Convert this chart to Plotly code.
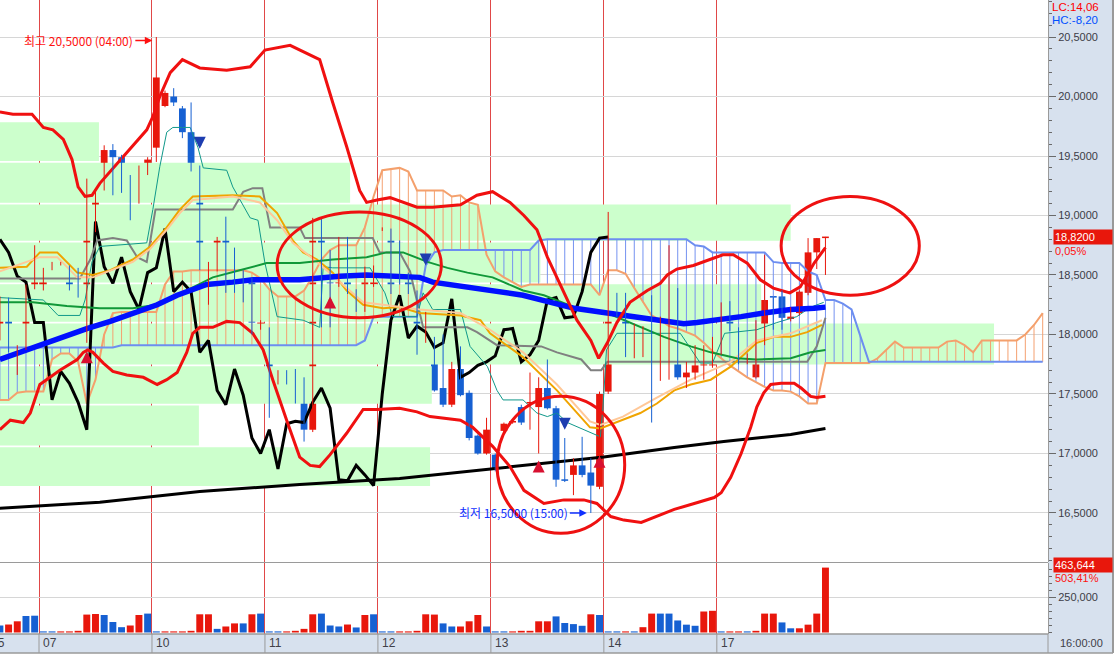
import plotly.graph_objects as go

# ---------------- candles: bar index (13 hourly bars a day, 0 = first bar of the 07th) ----------------
idx = list(range(-5, 91))
open_ = [17.98, 18.29, 17.86, 17.89, 18.40,
         18.40, 18.56, 18.59, 18.56, 18.38, 18.33, 18.88, 19.23, 19.55, 19.49, 19.32, 19.17, 19.36,
         19.57, 19.92, 20.00, 19.90, 19.70, 19.39, 18.47, 18.55, 18.80, 18.71, 18.50, 18.44, 18.06,
         18.05, 17.59, 17.69, 17.69, 17.55, 17.20, 18.95, 18.57, 18.43, 18.65, 18.37, 18.21, 18.42,
         18.88, 18.88, 18.77, 18.50, 18.35, 17.94, 17.96, 17.55, 17.41, 17.71, 17.51, 17.15, 17.00,
         16.99, 17.19, 17.26, 17.39, 17.42, 17.39, 17.55, 17.38, 16.78, 16.82, 16.90, 16.84, 16.72,
         17.52, 18.34, 18.33, 17.93, 18.01, 17.98, 17.92, 17.93, 18.34, 17.64, 17.68, 17.74, 17.74,
         17.85, 18.27, 18.04, 17.77, 17.64, 17.93, 18.32, 18.32, 18.13, 18.18, 18.35, 18.69, 18.81]
high_ = [18.32, 18.31, 17.91, 18.42, 18.75,
         18.56, 18.61, 18.61, 18.58, 18.56, 19.31, 19.23, 19.59, 19.60, 19.51, 19.34, 19.42, 19.49,
         20.50, 20.05, 20.07, 19.92, 19.95, 19.42, 18.61, 18.82, 18.99, 18.73, 18.54, 18.48, 18.12,
         18.06, 17.70, 17.70, 17.71, 17.64, 18.98, 18.98, 18.71, 18.82, 18.82, 18.38, 18.57, 18.58,
         18.90, 18.89, 18.79, 18.52, 18.37, 18.19, 17.98, 18.00, 17.77, 17.90, 17.53, 17.16, 17.30,
         17.00, 17.26, 17.28, 17.41, 17.68, 17.64, 17.79, 17.40, 17.13, 16.96, 17.14, 16.96, 17.52,
         19.03, 18.35, 18.35, 18.09, 18.07, 18.33, 18.15, 18.75, 18.39, 17.77, 17.91, 17.91, 17.98,
         18.27, 18.28, 18.06, 17.84, 18.12, 18.67, 18.32, 18.37, 18.23, 18.37, 18.81, 18.81, 18.82]
low_ = [17.95, 17.85, 17.66, 17.87, 18.38,
        18.37, 18.54, 18.58, 18.37, 18.31, 17.93, 18.86, 19.21, 19.17, 19.19, 18.96, 19.10, 19.34,
        19.45, 19.91, 19.92, 19.65, 19.37, 18.54, 18.25, 18.53, 18.35, 18.35, 18.27, 18.00, 18.04,
        17.30, 17.58, 17.58, 17.42, 17.10, 17.18, 18.06, 18.06, 18.40, 18.34, 18.19, 18.19, 18.40,
        18.87, 18.34, 18.42, 18.34, 17.83, 17.93, 17.52, 17.39, 17.39, 17.48, 17.11, 16.99, 16.99,
        16.85, 17.17, 17.25, 17.24, 17.20, 17.00, 17.37, 16.72, 16.76, 16.65, 16.80, 16.50, 16.70,
        17.50, 18.14, 17.81, 17.80, 17.81, 17.26, 17.61, 17.62, 17.62, 17.55, 17.62, 17.62, 17.72,
        17.83, 18.03, 17.75, 17.75, 17.63, 17.91, 18.04, 18.04, 18.11, 18.16, 18.33, 18.55, 18.50]
close_ = [18.29, 17.87, 17.90, 18.40, 18.74,
          18.53, 18.60, 18.60, 18.39, 18.32, 18.89, 19.19, 19.55, 19.49, 19.32, 19.19, 19.36, 19.47,
          20.16, 20.03, 19.95, 19.70, 19.38, 18.56, 18.55, 18.80, 18.69, 18.49, 18.44, 18.10, 18.10,
          17.45, 17.69, 17.59, 17.43, 17.20, 18.95, 18.57, 18.43, 18.65, 18.36, 18.21, 18.52, 18.56,
          18.89, 18.36, 18.44, 18.36, 17.85, 17.95, 17.53, 17.41, 17.71, 17.49, 17.13, 17.00, 17.20,
          16.87, 17.25, 17.27, 17.26, 17.43, 17.55, 17.38, 16.78, 16.77, 16.90, 16.82, 16.73, 17.50,
          18.12, 18.33, 17.97, 18.07, 18.02, 17.89, 17.93, 18.30, 17.64, 17.68, 17.74, 17.77, 17.82,
          18.04, 18.05, 17.77, 17.83, 17.95, 18.29, 18.31, 18.14, 18.15, 18.36, 18.69, 18.81, 18.82]
volume = [50000, 57000, 80000, 118000, 120000,
          8000, 8000, 8000, 8000, 12000, 128000, 132000, 125000, 75000, 38000, 50000, 125000, 135000,
          8000, 8000, 8000, 8000, 12000, 130000, 130000, 26000, 43000, 65000, 65000, 130000, 135000,
          8000, 8000, 8000, 12000, 26000, 130000, 135000, 50000, 43000, 57000, 36000, 125000, 130000,
          8000, 8000, 8000, 8000, 12000, 130000, 128000, 65000, 43000, 43000, 80000, 125000, 43000,
          8000, 8000, 8000, 12000, 12000, 80000, 80000, 115000, 68000, 60000, 48000, 130000, 125000,
          8000, 8000, 8000, 8000, 38000, 135000, 135000, 135000, 86000, 56000, 48000, 150000, 155000,
          8000, 8000, 8000, 8000, 12000, 135000, 135000, 72000, 30000, 30000, 56000, 135000, 463644]
vol_up = [0, 1, 1, 0, 0,
          0, 0, 1, 1, 1, 1, 1, 0, 0, 0, 1, 1, 0,
          0, 1, 1, 1, 1, 1, 1, 0, 1, 1, 0, 1, 0,
          0, 0, 1, 1, 1, 1, 0, 0, 0, 1, 0, 1, 0,
          0, 0, 1, 1, 1, 1, 1, 0, 0, 1, 1, 1, 0,
          0, 0, 1, 1, 1, 1, 1, 0, 0, 0, 0, 1, 0,
          0, 0, 1, 0, 1, 1, 0, 0, 0, 0, 0, 1, 1,
          0, 1, 1, 0, 1, 1, 1, 0, 0, 1, 1, 1, 1]

day_labels = ["07", "10", "11", "12", "13", "14", "17"]
day_starts = [-0.5, 12.5, 25.5, 38.5, 51.5, 64.5, 77.5]
price_ticks = [16.5, 17.0, 17.5, 18.0, 18.5, 19.0, 19.5, 20.0, 20.5]
price_tick_text = ["16,5000", "17,0000", "17,5000", "18,0000", "18,5000",
                   "19,0000", "19,5000", "20,0000", "20,5000"]

# ---------------- indicator lines (vertex index, price) ----------------
bb_up_x = [-5.0, -3.5, -1.3, 0.0, 1.1, 2.3, 3.3, 4.0, 4.8, 5.6, 6.5, 11.9, 12.6, 13.4, 14.6, 16.0, 18.0,
           21.1, 23.8, 25.5, 28.4, 31.8, 33.3, 34.9, 36.4, 37.2, 38.4, 39.9, 43.0, 44.8, 48.0, 49.9, 51.7,
           53.7, 55.3, 56.8, 58.0, 59.6, 61.4, 63.0, 63.9, 64.9, 66.0, 67.5, 69.5, 71.0, 71.8, 72.9, 74.8,
           76.7, 78.2, 79.4, 81.0, 82.5, 84.0, 85.9, 87.1, 88.7, 90.0]
bb_up = [19.87, 19.85, 19.85, 19.74, 19.72, 19.64, 19.47, 19.24, 19.16, 19.17, 19.27, 19.72, 19.83, 20.00,
         20.20, 20.31, 20.24, 20.22, 20.25, 20.39, 20.43, 20.31, 19.95, 19.58, 19.21, 19.11, 19.13, 19.15,
         19.07, 19.07, 19.09, 19.17, 19.20, 19.11, 19.00, 18.88, 18.65, 18.40, 18.12, 17.95, 17.80, 17.93,
         18.10, 18.27, 18.37, 18.43, 18.50, 18.55, 18.58, 18.63, 18.67, 18.67, 18.60, 18.46, 18.39, 18.35,
         18.40, 18.60, 18.73]
bb_lo_x = [-5.0, -3.8, -2.3, -1.5, -0.4, 0.4, 1.9, 3.9, 4.6, 5.1, 5.7, 6.9, 8.0, 9.6, 11.5, 13.1, 14.2,
           15.4, 16.5, 17.2, 18.0, 19.5, 21.1, 22.6, 24.1, 25.3, 26.4, 28.0, 29.5, 30.7, 31.8, 33.0, 34.9,
           36.8, 38.4, 41.0, 43.0, 44.5, 48.0, 49.4, 51.7, 53.7, 55.3, 57.6, 59.9, 62.2, 63.7, 65.3, 66.8,
           68.8, 70.6, 72.6, 74.9, 77.2, 78.0, 79.1, 80.3, 81.4, 82.1, 82.9, 83.7, 84.9, 86.4, 87.2, 88.3,
           89.0, 90.0]
bb_lo = [17.20, 17.28, 17.26, 17.34, 17.58, 17.62, 17.70, 17.79, 17.85, 17.87, 17.85, 17.76, 17.69, 17.66,
         17.64, 17.58, 17.62, 17.68, 17.85, 18.01, 18.06, 18.06, 18.11, 18.10, 18.01, 17.87, 17.62, 17.28,
         16.97, 16.90, 16.89, 16.99, 17.17, 17.37, 17.37, 17.38, 17.35, 17.31, 17.28, 17.22, 17.06, 16.89,
         16.69, 16.58, 16.61, 16.61, 16.58, 16.47, 16.44, 16.42, 16.47, 16.53, 16.58, 16.63, 16.67, 16.80,
         17.00, 17.22, 17.39, 17.51, 17.58, 17.59, 17.59, 17.55, 17.48, 17.47, 17.48]
ma_blue_x = [-5.0, -2.7, 0.0, 2.7, 5.0, 7.7, 10.3, 13.1, 15.4, 17.1, 18.8, 21.8, 24.1, 29.5, 31.8, 34.1, 37.2,
             41.0, 43.3, 44.8, 48.8, 52.6, 55.2, 58.4, 61.1, 64.9, 68.0, 70.6, 73.7, 75.2, 77.5, 80.3, 82.9,
             86.0, 88.7, 90.0]
ma_blue = [17.79, 17.85, 17.93, 18.00, 18.05, 18.11, 18.18, 18.25, 18.33, 18.37, 18.42, 18.44, 18.46, 18.46,
           18.48, 18.49, 18.50, 18.49, 18.48, 18.44, 18.40, 18.36, 18.33, 18.27, 18.22, 18.18, 18.15, 18.12,
           18.09, 18.10, 18.12, 18.15, 18.18, 18.21, 18.22, 18.23]
ma_green_x = [-5.0, -1.2, 2.7, 6.5, 10.3, 13.1, 16.5, 19.5, 22.6, 25.7, 29.5, 33.3, 37.2, 39.5, 41.4, 44.2,
              46.5, 48.8, 51.7, 55.2, 57.6, 61.1, 64.9, 68.8, 71.4, 74.5, 76.8, 79.8, 82.1, 86.0, 88.3, 90.0]
ma_green = [18.27, 18.27, 18.24, 18.22, 18.22, 18.25, 18.37, 18.48, 18.54, 18.60, 18.60, 18.63, 18.65, 18.69,
            18.69, 18.61, 18.56, 18.52, 18.48, 18.37, 18.33, 18.23, 18.18, 18.06, 17.98, 17.90, 17.85, 17.80,
            17.79, 17.80, 17.85, 17.87]
ma_orange_x = [-5.0, -1.9, -0.4, 1.6, 3.9, 5.7, 7.7, 10.3, 12.3, 14.2, 15.7, 17.2, 21.8, 24.9, 26.9, 28.7,
               29.9, 31.5, 33.3, 34.9, 36.8, 39.1, 41.0, 43.3, 48.0, 50.3, 51.4, 55.2, 59.1, 62.9, 64.1, 66.7,
               68.7, 70.6, 72.6, 74.5, 76.8, 79.1, 82.1, 84.1, 86.0, 87.9, 89.6]
ma_orange = [18.56, 18.57, 18.69, 18.69, 18.52, 18.50, 18.54, 18.63, 18.74, 18.90, 19.05, 19.16, 19.17, 19.16,
             19.02, 18.79, 18.69, 18.63, 18.52, 18.37, 18.25, 18.22, 18.23, 18.18, 18.16, 18.12, 18.01, 17.81,
             17.53, 17.22, 17.21, 17.28, 17.34, 17.42, 17.53, 17.58, 17.62, 17.73, 17.93, 17.98, 17.98, 18.02,
             18.08]
ma_salmon_x = [-5.0, -0.4, 1.6, 3.9, 5.7, 10.3, 12.3, 14.2, 15.7, 17.2, 21.8, 24.9, 26.9, 28.7, 31.5, 34.9,
               36.8, 39.1, 43.3, 48.0, 51.4, 55.2, 59.1, 62.9, 64.1, 66.7, 70.6, 74.5, 79.1, 82.1, 86.0, 89.6]
ma_salmon = [18.53, 18.65, 18.65, 18.48, 18.48, 18.61, 18.72, 18.88, 19.02, 19.13, 19.16, 19.11, 18.96, 18.77,
             18.61, 18.39, 18.27, 18.25, 18.21, 18.18, 18.04, 17.85, 17.58, 17.27, 17.24, 17.31, 17.47, 17.62,
             17.77, 17.95, 18.01, 18.12]
kijun_x = [-5.0, 4.2, 5.4, 6.2, 8.0, 9.6, 10.8, 11.9, 12.9, 21.8, 23.0, 24.1, 25.2, 26.1, 29.5, 30.1, 37.9,
           38.7, 41.0, 42.2, 43.7, 48.8, 49.9, 52.2, 57.3, 59.1, 61.9, 63.0, 64.2, 64.9, 87.9, 89.0, 90.0]
kijun = [18.47, 18.47, 18.63, 18.79, 18.81, 18.79, 18.65, 18.61, 19.05, 19.05, 19.20, 19.23, 19.23, 18.90,
         18.90, 18.81, 18.81, 18.69, 18.69, 18.53, 18.06, 18.06, 18.02, 17.91, 17.90, 17.85, 17.79, 17.70,
         17.70, 17.77, 17.77, 17.90, 18.14]
tenkan_x = [-5.0, 0.0, 1.7, 4.2, 4.8, 5.6, 6.5, 11.9, 12.6, 13.4, 14.2, 14.9, 16.9, 17.8, 18.4, 21.1, 21.8,
            23.8, 24.7, 25.5, 26.9, 29.9, 31.8, 32.2, 33.3, 37.6, 39.3, 40.2, 43.0, 43.7, 44.8, 48.0, 49.1,
            51.1, 52.2, 52.9, 55.2, 56.8, 58.0, 59.1, 60.3, 63.3, 64.1, 64.4, 64.8, 66.0, 73.3, 75.6, 77.0,
            78.4, 82.1, 84.4, 86.7, 88.3, 89.8]
tenkan = [18.31, 18.29, 18.16, 18.16, 18.29, 18.61, 18.74, 18.77, 19.05, 19.41, 19.70, 19.74, 19.74, 19.57,
          19.40, 19.38, 19.24, 18.98, 18.96, 18.60, 18.15, 18.12, 18.06, 18.57, 18.56, 18.56, 18.35, 18.15,
          18.15, 18.35, 18.21, 18.21, 17.90, 17.73, 17.53, 17.45, 17.45, 17.34, 17.31, 17.34, 17.26, 17.17,
          17.14, 17.39, 17.87, 18.01, 18.01, 17.76, 17.76, 18.01, 18.04, 18.10, 18.15, 18.23, 18.27]
ma_long_x = [-5.0, 6.5, 18.0, 29.5, 41.0, 55.2, 64.5, 72.6, 78.3, 86.0, 90.0]
ma_long = [16.54, 16.59, 16.68, 16.74, 16.79, 16.90, 16.97, 17.05, 17.10, 17.16, 17.21]
chikou_shift = 25

# ---------------- ichimoku cloud (per bar, shifted forward) ----------------
cloud_x = list(range(-5, 116))
span_a = [17.45, 17.45, 17.51, 17.52, 17.52,
          17.52, 17.79, 17.84, 17.84, 17.77, 17.42, 17.62, 18.00, 18.18, 18.19, 18.19, 18.19, 18.19,
          18.19, 18.42, 18.53, 18.53, 18.54, 18.54, 18.54, 18.54, 18.54, 18.54, 18.54, 18.52, 18.47,
          18.38, 18.32, 18.32, 18.32, 18.37, 18.49, 18.63, 18.71, 18.75, 18.75, 18.75, 18.90, 19.16,
          19.38, 19.39, 19.40, 19.37, 19.21, 19.21, 19.21, 19.21, 19.16, 19.17, 19.11, 19.09, 18.67,
          18.53, 18.48, 18.44, 18.40, 18.42, 18.42, 18.42, 18.42, 18.42, 18.42, 18.42, 18.42, 18.33,
          18.54, 18.54, 18.51, 18.39, 18.27, 18.16, 18.12, 18.07, 18.05, 18.02, 17.99, 17.93, 17.86,
          17.80, 17.74, 17.69, 17.64, 17.60, 17.56, 17.53, 17.53, 17.52, 17.48, 17.42, 17.42, 17.76,
          17.76, 17.76, 17.76, 17.76, 17.76, 17.80, 17.87, 17.94, 17.89, 17.89, 17.89, 17.89, 17.89,
          17.94, 17.95, 17.91, 17.85, 17.95, 17.95, 17.95, 17.95, 17.95, 18.00, 18.08, 18.18]
span_b = [17.89, 17.89, 17.89, 17.89, 17.89,
          17.89, 17.89, 17.89, 17.89, 17.89, 17.89, 17.89, 17.89, 17.89, 17.91, 17.91, 17.91, 17.91,
          17.91, 17.91, 17.91, 17.91, 17.91, 17.91, 17.91, 17.91, 17.91, 17.91, 17.91, 17.91, 17.91,
          17.91, 17.91, 17.91, 17.91, 17.91, 17.91, 17.91, 17.91, 17.91, 17.91, 17.91, 17.95, 18.15,
          18.15, 18.15, 18.15, 18.15, 18.15, 18.58, 18.69, 18.71, 18.71, 18.71, 18.71, 18.71, 18.71,
          18.71, 18.71, 18.71, 18.71, 18.71, 18.79, 18.80, 18.80, 18.80, 18.80, 18.80, 18.80, 18.80,
          18.80, 18.80, 18.80, 18.80, 18.80, 18.80, 18.80, 18.80, 18.80, 18.80, 18.75, 18.74, 18.69,
          18.69, 18.69, 18.69, 18.69, 18.69, 18.69, 18.61, 18.60, 18.60, 18.60, 18.53, 18.50, 18.29,
          18.29, 18.26, 18.21, 17.99, 17.77, 17.77, 17.77, 17.77, 17.77, 17.77, 17.77, 17.77, 17.77,
          17.77, 17.77, 17.77, 17.77, 17.77, 17.77, 17.77, 17.77, 17.77, 17.77, 17.77, 17.77]

# ---------------- price-by-volume boxes ----------------
vp_low = [19.45, 19.10, 18.78, 18.43, 18.10, 17.74, 17.41, 17.06, 16.72]
vp_high = [19.79, 19.45, 19.10, 18.78, 18.43, 18.10, 17.74, 17.41, 17.06]
vp_end = [6.4, 35.3, 86.0, 57.2, 82.6, 109.4, 44.7, 17.9, 44.5]

# ---------------- signal arrows ----------------
buy_x = [5, 33, 57, 64]
buy_y = [17.86, 18.32, 16.94, 16.98]
sell_x = [18, 44, 60]
sell_y = [19.56, 18.58, 17.20]

RED = "#e8170c"
BLUE = "#1660d2"
NUM_FONT = "Liberation Sans, Arial, sans-serif"
KR_FONT = "Noto Sans CJK KR, sans-serif"
W_PLOT, H_PLOT = 1048.0, 634.0


def px(xp):
    return xp / W_PLOT


def py(yp):
    return (H_PLOT - yp) / H_PLOT


fig = go.Figure()

# price-by-volume boxes
bx, by = [], []
for lo, hi, end in zip(vp_low, vp_high, vp_end):
    bx += [-6, end, end, -6, -6, None]
    by += [lo + 0.007, lo + 0.007, hi - 0.007, hi - 0.007, lo + 0.007, None]
fig.add_trace(go.Scatter(x=bx, y=by, fill="toself", fillcolor="#ccffcc", mode="lines",
                         line=dict(width=0), hoverinfo="skip"))

# cloud hatching
ho_x, ho_y, hb_x, hb_y = [], [], [], []
for x, a, b in zip(cloud_x, span_a, span_b):
    if a >= b:
        ho_x += [x, x, None]
        ho_y += [b, a, None]
    else:
        hb_x += [x, x, None]
        hb_y += [a, b, None]
fig.add_trace(go.Scatter(x=ho_x, y=ho_y, mode="lines", line=dict(color="#f4a070", width=1), hoverinfo="skip"))
fig.add_trace(go.Scatter(x=hb_x, y=hb_y, mode="lines", line=dict(color="#7592f0", width=1), hoverinfo="skip"))
fig.add_trace(go.Scatter(x=cloud_x, y=span_a, mode="lines", line=dict(color="#f4a06c", width=2)))
fig.add_trace(go.Scatter(x=cloud_x, y=span_b, mode="lines", line=dict(color="#6d8ef0", width=2)))

# long moving average and lagging span
fig.add_trace(go.Scatter(x=ma_long_x, y=ma_long, mode="lines", line=dict(color="#000000", width=3)))
ch_x = [i - chikou_shift for i in idx if i >= chikou_shift - 5]
ch_y = [c for i, c in zip(idx, close_) if i >= chikou_shift - 5]
fig.add_trace(go.Scatter(x=ch_x, y=ch_y, mode="lines", line=dict(color="#000000", width=3)))

fig.add_trace(go.Scatter(x=kijun_x, y=kijun, mode="lines", line=dict(color="#808080", width=2)))
fig.add_trace(go.Scatter(x=tenkan_x, y=tenkan, mode="lines", line=dict(color="#10988a", width=1)))
fig.add_trace(go.Scatter(x=ma_orange_x, y=ma_orange, mode="lines", line=dict(color="#f0a400", width=2)))
fig.add_trace(go.Scatter(x=ma_salmon_x, y=ma_salmon, mode="lines", line=dict(color="#ffc898", width=2)))
fig.add_trace(go.Scatter(x=ma_green_x, y=ma_green, mode="lines", line=dict(color="#109838", width=2)))
fig.add_trace(go.Scatter(x=ma_blue_x, y=ma_blue, mode="lines", line=dict(color="#0010ff", width=5.5)))
fig.add_trace(go.Scatter(x=bb_up_x, y=bb_up, mode="lines", line=dict(color="#f01010", width=3)))
fig.add_trace(go.Scatter(x=bb_lo_x, y=bb_lo, mode="lines", line=dict(color="#f01010", width=3)))

# candles
cols, bases, heights = [], [], []
wr_x, wr_y, wb_x, wb_y = [], [], [], []
for i, o, h, l, c in zip(idx, open_, high_, low_, close_):
    up = c > o
    cols.append(RED if up else BLUE)
    bases.append(min(o, c))
    heights.append(max(abs(c - o), 0.013))
    if up:
        wr_x += [i, i, None]
        wr_y += [l, h, None]
    else:
        wb_x += [i, i, None]
        wb_y += [l, h, None]
fig.add_trace(go.Scatter(x=wr_x, y=wr_y, mode="lines", line=dict(color=RED, width=1)))
fig.add_trace(go.Scatter(x=wb_x, y=wb_y, mode="lines", line=dict(color=BLUE, width=1)))
fig.add_trace(go.Bar(x=idx, y=heights, base=bases, width=0.78, marker=dict(color=cols, line=dict(width=0))))

# volume
fig.add_trace(go.Bar(x=idx, y=volume, yaxis="y2", width=0.8,
                     marker=dict(color=[RED if u else BLUE for u in vol_up], line=dict(width=0))))

annotations = []
for x, y in zip(buy_x, buy_y):
    annotations.append(dict(x=x, y=y, xref="x", yref="y", text="", showarrow=True, ax=0, ay=12,
                            arrowhead=2, arrowsize=0.8, arrowwidth=3, arrowcolor="#d81030", standoff=0))
for x, y in zip(sell_x, sell_y):
    annotations.append(dict(x=x, y=y, xref="x", yref="y", text="", showarrow=True, ax=0, ay=-12,
                            arrowhead=2, arrowsize=0.8, arrowwidth=3, arrowcolor="#1d3db0", standoff=0))

annotations.append(dict(x=13, y=20.47, xref="x", yref="y", text="최고 20,5000 (04:00)", showarrow=True,
                        ax=-21, ay=0, xanchor="right", arrowhead=2, arrowsize=1, arrowwidth=1.5,
                        arrowcolor="#ff1010", standoff=4, font=dict(family=KR_FONT, size=12, color="#ff1010")))
annotations.append(dict(x=63, y=16.5, xref="x", yref="y", text="최저 16,5000 (15:00)", showarrow=True,
                        ax=-21, ay=0, xanchor="right", arrowhead=2, arrowsize=1, arrowwidth=1.5,
                        arrowcolor="#1030ff", standoff=4, font=dict(family=KR_FONT, size=12, color="#1030ff")))

# right-side labels
annotations.append(dict(x=px(1050), y=py(7), xref="paper", yref="paper", text="LC:14,06", showarrow=False,
                        xanchor="left", yanchor="middle", font=dict(family=NUM_FONT, size=11.5, color="#ff0000")))
annotations.append(dict(x=px(1050), y=py(20), xref="paper", yref="paper", text="HC:-8,20", showarrow=False,
                        xanchor="left", yanchor="middle", font=dict(family=NUM_FONT, size=11.5, color="#0050ff")))
annotations.append(dict(x=px(1053), y=close_[-1], xref="paper", yref="y", text="18,8200", showarrow=False,
                        xanchor="left", yanchor="middle", bgcolor="#e8170c", width=56, align="left", borderpad=1,
                        font=dict(family=NUM_FONT, size=11, color="#ffffff")))
annotations.append(dict(x=px(1053), y=close_[-1], yshift=-14, xref="paper", yref="y", text="0,05%",
                        showarrow=False, xanchor="left", yanchor="middle",
                        font=dict(family=NUM_FONT, size=11, color="#ff1010")))
annotations.append(dict(x=px(1053), y=volume[-1], yshift=3, xref="paper", yref="y2", text="463,644",
                        showarrow=False, xanchor="left", yanchor="middle", bgcolor="#e8170c", width=56,
                        align="left", borderpad=1, font=dict(family=NUM_FONT, size=11, color="#ffffff")))
annotations.append(dict(x=px(1053), y=volume[-1], yshift=-10, xref="paper", yref="y2", text="503,41%",
                        showarrow=False, xanchor="left", yanchor="middle",
                        font=dict(family=NUM_FONT, size=11, color="#ff1010")))
annotations.append(dict(x=px(1058), y=py(643), xref="paper", yref="paper", text="16:00:00", showarrow=False,
                        xanchor="left", yanchor="middle", font=dict(family=NUM_FONT, size=11, color="#404048")))
# day labels
for s, lab in zip(day_starts, day_labels):
    annotations.append(dict(x=s, y=py(643), xref="x", yref="paper", text=lab, showarrow=False, xshift=2,
                            xanchor="left", yanchor="middle", font=dict(family=NUM_FONT, size=12, color="#404048")))
annotations.append(dict(x=px(7), y=py(643), xref="paper", yref="paper", text="05", showarrow=False,
                        xanchor="right", yanchor="middle", font=dict(family=NUM_FONT, size=12, color="#404048")))

GRAY = "#9a9a9a"
STRIP = "#d7e1ee"
shapes = [
    dict(type="rect", xref="paper", yref="paper", x0=1.0, x1=px(1113), y0=py(653), y1=1.0,
         fillcolor=STRIP, line=dict(width=0), layer="below"),
    dict(type="rect", xref="paper", yref="paper", x0=0.0, x1=1.0, y0=py(653), y1=py(634),
         fillcolor=STRIP, line=dict(width=0), layer="below"),
    dict(type="line", xref="paper", yref="paper", x0=0, x1=px(1113), y0=py(653), y1=py(653),
         line=dict(color=GRAY, width=1.5)),
    dict(type="line", xref="paper", yref="paper", x0=0, x1=1.0, y0=py(634), y1=py(634),
         line=dict(color=GRAY, width=1.5)),
    dict(type="line", xref="paper", yref="paper", x0=px(1113), x1=px(1113), y0=py(653), y1=1.0,
         line=dict(color=GRAY, width=2)),
    dict(type="line", xref="paper", yref="paper", x0=1.0, x1=1.0, y0=py(653), y1=py(634),
         line=dict(color=GRAY, width=1)),
    dict(type="line", xref="paper", yref="paper", x0=0, x1=1.0, y0=py(562.5), y1=py(562.5),
         line=dict(color=GRAY, width=1)),
    dict(type="circle", xref="x", yref="y", x0=26.9, x1=45.8, y0=18.14, y1=19.03,
         line=dict(color="#ee1111", width=3), layer="above"),
    dict(type="circle", xref="x", yref="y", x0=84.9, x1=100.8, y0=18.33, y1=19.16,
         line=dict(color="#ee1111", width=3), layer="above"),
    dict(type="circle", xref="x", yref="y", x0=52.2, x1=66.9, y0=16.33, y1=17.48,
         line=dict(color="#ee1111", width=3), layer="above"),
]
for s in day_starts:
    shapes.append(dict(type="line", xref="x", yref="paper", x0=s, x1=s, y0=py(653), y1=py(634),
                       line=dict(color=GRAY, width=1)))

fig.update_layout(
    width=1118, height=656,
    margin=dict(l=0, r=70, t=0, b=22),
    paper_bgcolor="#ffffff", plot_bgcolor="#ffffff",
    showlegend=False, barmode="overlay", hovermode=False,
    xaxis=dict(range=[-4.988, 115.61], anchor="y2", tickvals=day_starts, showticklabels=False,
               ticks="", showgrid=True, gridcolor="#e04848", gridwidth=1, zeroline=False, showline=False),
    yaxis=dict(domain=[py(562), 1.0], range=[16.088, 20.811], side="right", anchor="x",
               tickvals=price_ticks, ticktext=price_tick_text, ticks="outside", ticklen=7,
               tickcolor="#6a6a6a", showgrid=True, gridcolor="#d6d6d6", zeroline=False,
               showline=True, linecolor=GRAY, linewidth=1,
               minor=dict(dtick=0.1, tick0=0, ticks="outside", ticklen=3, tickcolor="#6a6a6a", showgrid=False),
               tickfont=dict(family=NUM_FONT, size=11, color="#3c3c46")),
    yaxis2=dict(domain=[0.0, py(563)], range=[-10714, 496429], side="right", anchor="x",
                tickvals=[250000], ticktext=["250,000"], ticks="outside", ticklen=7, tickcolor="#6a6a6a",
                showgrid=True, gridcolor="#d6d6d6", zeroline=False, showline=True, linecolor=GRAY,
                minor=dict(dtick=50000, tick0=0, ticks="outside", ticklen=3, tickcolor="#6a6a6a", showgrid=False),
                tickfont=dict(family=NUM_FONT, size=11, color="#3c3c46")),
    annotations=annotations,
    shapes=shapes,
)

fig.write_html("out.html", config={"displayModeBar": False, "staticPlot": True},
               post_script="document.body.style.margin='0px';")
